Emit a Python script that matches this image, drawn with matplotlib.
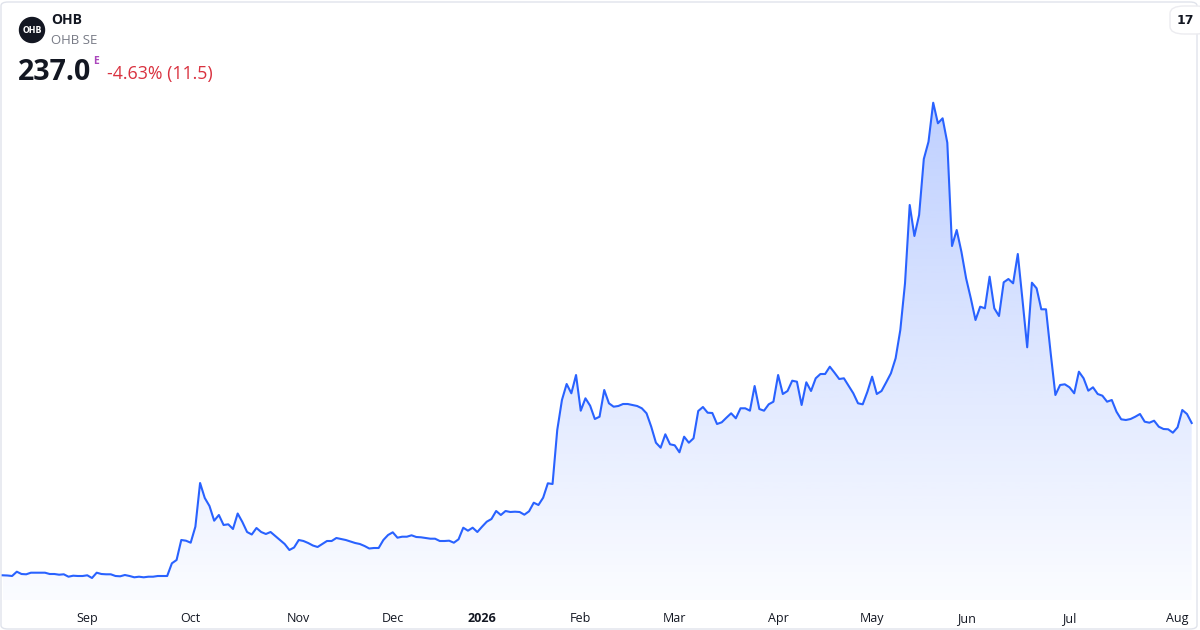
import matplotlib.pyplot as plt
import numpy as np
import pandas as pd
from matplotlib.patches import FancyBboxPatch, Ellipse

plt.rcParams['font.family'] = ['Open Sans', 'DejaVu Sans']

# Daily closes, 2025-08-06 .. 2026-08-07
closes = [
    84.7, 84.5, 84.0, 88.3, 86.0, 85.7, 87.3, 87.3, 87.3, 87.3,
    86.0, 86.0, 85.3, 85.7, 83.3, 84.3, 84.0, 84.0, 84.7, 82.0,
    87.3, 86.0, 85.7, 85.7, 84.0, 83.7, 85.0, 84.0, 82.7, 83.3,
    82.7, 83.3, 83.3, 84.0, 84.0, 84.0, 96.7, 100.0, 120.0, 119.3,
    117.3, 133.3, 177.0, 162.0, 154.0, 139.3, 145.0, 135.0, 135.7, 131.0,
    146.5, 138.0, 128.0, 125.5, 132.0, 128.0, 126.0, 128.0, 124.0, 120.0,
    116.0, 110.0, 112.5, 120.0, 119.0, 117.0, 114.5, 113.0, 116.0, 119.0,
    119.0, 122.0, 121.0, 120.0, 118.5, 117.0, 116.0, 114.0, 111.5, 112.0,
    112.0, 120.0, 125.0, 127.7, 122.3, 123.3, 123.3, 124.7, 123.0, 122.7,
    122.0, 121.3, 121.3, 119.0, 119.0, 119.3, 117.3, 120.7, 132.3, 129.3,
    132.3, 128.0, 133.3, 138.3, 141.0, 149.0, 145.0, 149.0, 148.0, 148.3,
    148.0, 145.3, 148.7, 157.3, 155.0, 162.3, 176.7, 176.0, 230.0, 260.0,
    276.0, 266.7, 285.0, 249.3, 261.7, 254.3, 241.0, 243.3, 270.0, 256.7,
    253.3, 254.0, 256.0, 256.0, 255.0, 254.0, 251.7, 246.7, 233.3, 217.3,
    212.3, 225.7, 215.7, 214.7, 207.7, 223.3, 217.3, 221.7, 249.0, 253.0,
    247.3, 247.0, 236.0, 237.7, 242.3, 246.7, 241.7, 251.7, 251.7, 249.3,
    274.0, 251.0, 249.3, 255.7, 258.3, 285.0, 266.0, 269.0, 279.3, 278.3,
    255.0, 277.7, 269.0, 281.7, 286.0, 286.0, 293.3, 287.3, 281.0, 281.7,
    274.3, 266.7, 256.7, 255.7, 268.3, 283.3, 266.0, 269.0, 277.7, 286.7,
    301.7, 330.0, 376.7, 455.0, 424.0, 445.0, 501.0, 518.3, 557.3, 536.7,
    541.7, 517.3, 414.0, 430.0, 408.3, 381.7, 361.7, 340.0, 353.3, 351.7,
    383.3, 351.7, 344.0, 377.7, 381.0, 376.7, 406.0, 360.0, 312.7, 377.3,
    371.7, 350.7, 350.7, 306.7, 265.0, 275.0, 275.7, 272.7, 266.7, 288.3,
    281.7, 269.3, 272.7, 266.0, 264.3, 258.3, 260.0, 248.3, 240.7, 240.0,
    241.0, 243.3, 246.0, 238.3, 237.3, 239.3, 233.3, 231.0, 230.7, 227.3,
    232.7, 250.0, 246.0, 237.0,
]
holidays = ['2025-12-24', '2025-12-25', '2025-12-26', '2025-12-31',
            '2026-01-01', '2026-04-03', '2026-04-06', '2026-05-25']

days = pd.bdate_range('2025-08-06', '2026-08-07')
days = days[~days.isin(pd.to_datetime(holidays))][:len(closes)]
y = np.array(closes)
x = np.arange(len(y))

# month ticks at first session of each month
tick_pos = [i for i in range(1, len(days)) if days[i].month != days[i - 1].month]
tick_lab = [str(days[i].year) if days[i].month == 1 else days[i].strftime('%b') for i in tick_pos]

W, H = 1200, 630
fig = plt.figure(figsize=(W / 100, H / 100), dpi=100)
fig.patch.set_facecolor('white')
ax = fig.add_axes([0, 30 / H, 1, 600 / H])
ax.set_xlim(-0.574, 254.77)
ax.set_ylim(60, 660)

line_c = '#2962FF'
ax.plot(x, y, color=line_c, lw=1.5, zorder=3, solid_joinstyle='round')

# gradient under the line
poly = ax.fill_between(x, y, 60, color='none', lw=0)
grad = np.linspace(0.02, 0.30, 256).reshape(-1, 1)
rgba = np.zeros((256, 1, 4))
rgba[..., 0] = 41 / 255
rgba[..., 1] = 98 / 255
rgba[..., 2] = 1.0
rgba[..., 3] = grad
img = ax.imshow(rgba, extent=[x[0], x[-1], 60, max(y)], origin='lower',
                aspect='auto', zorder=2, interpolation='bilinear')
img.set_clip_path(poly.get_paths()[0], transform=ax.transData)

ax.set_xticks(tick_pos)
ax.set_xticklabels(tick_lab)
for t, lab in zip(ax.get_xticklabels(), tick_lab):
    t.set_color('#131722')
    t.set_fontsize(9)
    if lab.isdigit():
        t.set_fontweight('bold')
ax.tick_params(axis='x', length=0, pad=8.5)
ax.set_yticks([])
for s in ax.spines.values():
    s.set_visible(False)
ax.patch.set_alpha(0)

# outer frame
fig.add_artist(FancyBboxPatch((1 / W, 1 / H), 1196 / W, 627 / H,
                              boxstyle='round,pad=0,rounding_size=0.006',
                              transform=fig.transFigure, fill=False,
                              edgecolor='#e0e3eb', lw=1, zorder=0))

# header
fig.add_artist(Ellipse((32 / W, 1 - 30 / H), 25 / W, 25 / H,
                       transform=fig.transFigure, color='#131722', zorder=5))
fig.text(32 / W, 1 - 30.5 / H, 'OHB', color='white', fontsize=5.8,
         fontweight='heavy', family='DejaVu Sans', ha='center', va='center', zorder=6)
fig.text(51 / W, 1 - 20 / H, 'OHB', color='#131722', fontsize=10,
         fontweight='bold', ha='left', va='center')
fig.text(51 / W, 1 - 41 / H, 'OHB SE', color='#787b86', fontsize=9.5,
         ha='left', va='center')
fig.text(18 / W, 1 - 72 / H, '237.0', color='#131722', fontsize=20.5,
         fontweight='bold', ha='left', va='center')
fig.text(93 / W, 1 - 61 / H, 'E', color='#ab47bc', fontsize=7.5,
         fontweight='bold', ha='left', va='center')
fig.text(107 / W, 1 - 74 / H, '-4.63% (11.5)', color='#d9313f', fontsize=12.8,
         ha='left', va='center')

# tradingview badge
fig.add_artist(FancyBboxPatch((1170 / W, 1 - 34 / H), 40 / W, 28 / H,
                              boxstyle='round,pad=0,rounding_size=0.012',
                              transform=fig.transFigure, facecolor='white',
                              edgecolor='#ececf0', lw=1, zorder=5))
fig.text(1185 / W, 1 - 20 / H, '17', color='#131722', fontsize=9,
         fontweight='heavy', family='DejaVu Sans', ha='center', va='center', zorder=6)

fig.savefig('out.png', dpi=100, facecolor='white')
